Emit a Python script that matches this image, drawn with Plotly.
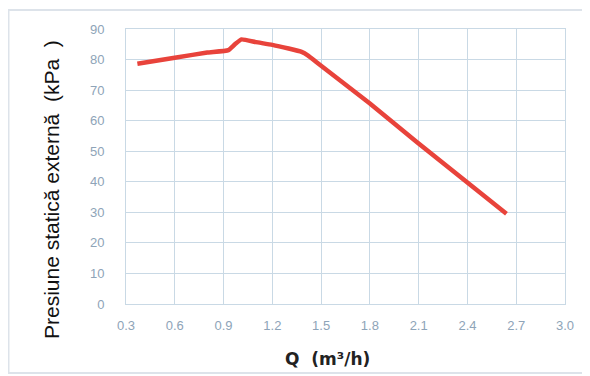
import plotly.graph_objects as go

flow_q = [0.37, 0.6, 0.8, 0.93, 0.97, 1.01, 1.1, 1.2, 1.3, 1.38, 1.42, 1.47, 1.8, 2.09, 2.64]
pressure = [78.6, 80.6, 82.3, 83.1, 85.0, 86.6, 85.7, 84.8, 83.6, 82.5, 81.3, 79.2, 65.6, 52.9, 29.5]

x_ticks = [0.3, 0.6, 0.9, 1.2, 1.5, 1.8, 2.1, 2.4, 2.7, 3.0]
y_ticks = [0, 10, 20, 30, 40, 50, 60, 70, 80, 90]

# page body has an 8px margin, so the figure is sized/positioned accordingly
W, H = 582, 368
ML, MR, MT, MB = 118, 25, 21, 72
PW, PH = W - ML - MR, H - MT - MB

def px(xf):
    return (xf - ML) / PW

def py(yf):
    return (H - MB - yf) / PH

fig = go.Figure()
fig.add_trace(go.Scatter(x=flow_q, y=pressure, mode="lines",
                         line=dict(color="#e8433b", width=4.5, shape="spline", smoothing=0.4),
                         hoverinfo="skip"))

axis_common = dict(showgrid=True, gridcolor="#c9d9e5", gridwidth=1, zeroline=False,
                   showline=True, linecolor="#c9d9e5", linewidth=1, mirror=True,
                   tickfont=dict(family="Liberation Sans, Arial", size=13, color="#8ea4b8"),
                   ticks="")
fig.update_xaxes(range=[0.3, 3.0], tickvals=x_ticks, ticktext=[f"{v:.1f}" for v in x_ticks],
                 ticklabelstandoff=9, **axis_common)
fig.update_yaxes(range=[0, 90], tickvals=y_ticks, ticklabelstandoff=18, **axis_common)

fig.add_annotation(text="<b>Q  (m³/h)</b>", x=px(327 - 8), y=py(359 - 8), xref="paper", yref="paper",
                   showarrow=False, font=dict(family="DejaVu Sans", size=17, color="#222"),
                   xanchor="center", yanchor="middle")
fig.add_annotation(text="Presiune statică externă  (kPa  )",
                   x=px(51 - 8), y=py(190 - 8),
                   xref="paper", yref="paper", xanchor="center", yanchor="middle",
                   showarrow=False, textangle=-90,
                   font=dict(family="Liberation Sans, Arial", size=21, color="#111"))

fig.update_layout(
    width=W, height=H,
    margin=dict(l=ML, r=MR, t=MT, b=MB),
    plot_bgcolor="white", paper_bgcolor="white",
    showlegend=False,
    shapes=[dict(type="rect", xref="paper", yref="paper",
                 x0=px(0.5), x1=px(575), y0=py(365), y1=py(2),
                 line=dict(color="#dde3ea", width=2), layer="below")],
)

fig.write_html("out.html")
